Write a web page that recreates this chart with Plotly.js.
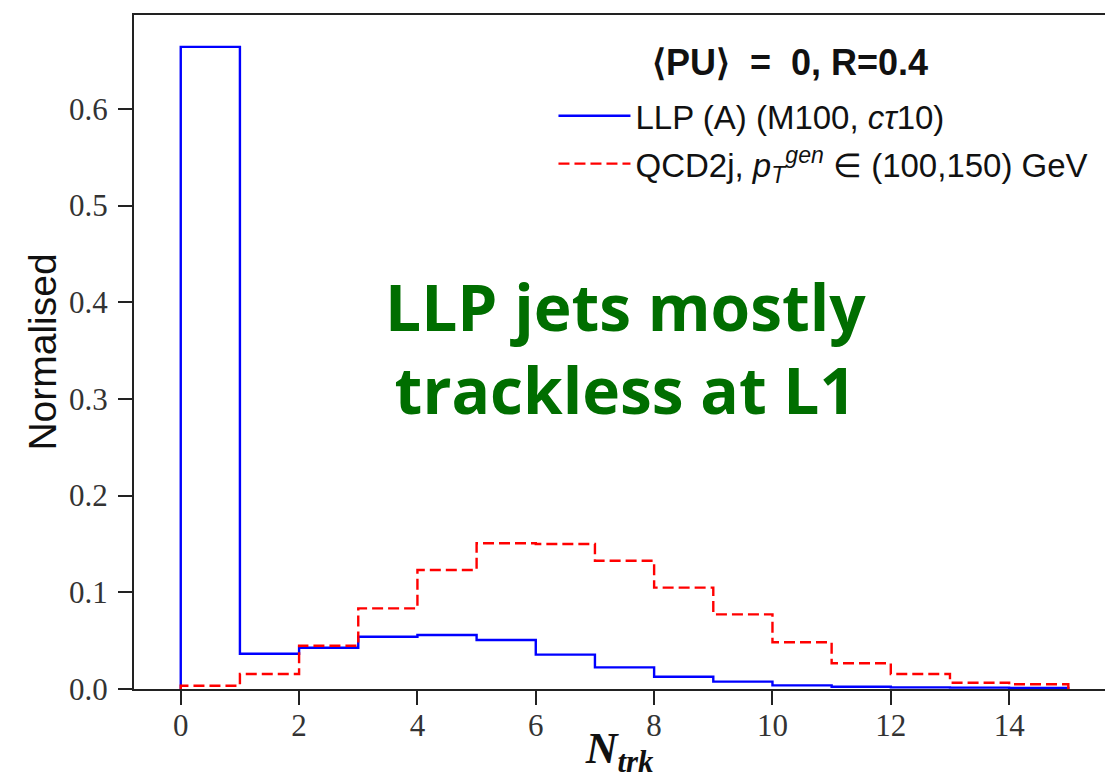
<!DOCTYPE html>
<html>
<head>
<meta charset="utf-8">
<script src="https://cdn.plot.ly/plotly-3.0.1.min.js"></script>
<style>html,body{margin:0;padding:0;background:#fff;}#chart{width:1105px;height:779px;}</style>
</head>
<body>
<div id="chart"></div>
<script>
// Bin edges of N_trk histogram (bins 0-1, 1-2, ..., 14-15)
const binEdges = [0,1,2,3,4,5,6,7,8,9,10,11,12,13,14,15];
// Normalised bin contents
const llpValues = [0.664,0.0365,0.0427,0.054,0.0558,0.0507,0.0355,0.0224,0.0127,0.0076,0.0038,0.0024,0.0017,0.0014,0.0010];
const qcdValues = [0.0034,0.0155,0.0448,0.0834,0.123,0.1507,0.150,0.1327,0.1048,0.0772,0.0483,0.0266,0.0155,0.0065,0.0049];
const llpName = "LLP (A) (M100, <i>cτ</i>10)";
const qcdName = "QCD2j, <i>p</i><sub><i>T</i></sub><sup><i>gen</i></sup> ∈ (100,150) GeV";
const xTickVals = [0,2,4,6,8,10,12,14];
const yTickVals = [0,0.1,0.2,0.3,0.4,0.5,0.6];
const yTickText = ["0.0","0.1","0.2","0.3","0.4","0.5","0.6"];

function stepPath(edges, vals){
  const x = [edges[0]], y = [0];
  for (let i = 0; i < vals.length; i++){ x.push(edges[i]); y.push(vals[i]); }
  x.push(edges[edges.length-1]); y.push(vals[vals.length-1]);
  x.push(edges[edges.length-1]); y.push(0);
  return {x, y};
}
const llp = stepPath(binEdges, llpValues);
const qcd = stepPath(binEdges, qcdValues);

const traces = [
  {x: llp.x, y: llp.y, mode: 'lines', line: {shape: 'hv', color: '#0000ff', width: 2.4}, name: llpName, legendgroup: 'a', hoverinfo: 'skip'},
  {x: qcd.x, y: qcd.y, mode: 'lines', line: {shape: 'hv', color: '#ff0000', width: 2.4, dash: '11px,5px'}, name: qcdName, legendgroup: 'b', hoverinfo: 'skip'}
];

const tickFont = {family: 'Liberation Serif, DejaVu Serif, serif', size: 31, color: '#333'};
const layout = {
  width: 1105, height: 779,
  margin: {l: 134, r: 0, t: 15, b: 90},
  paper_bgcolor: '#fff', plot_bgcolor: '#fff',
  showlegend: true,
  legend: {
    x: 0.432, y: 0.892, xanchor: 'left', yanchor: 'top',
    bgcolor: 'rgba(0,0,0,0)', borderwidth: 0,
    font: {family: 'Liberation Sans, Arial, sans-serif', size: 33, color: '#111'},
    itemwidth: 72, traceorder: 'grouped', tracegroupgap: 2
  },
  xaxis: {
    range: [-0.79, 15.62], tickvals: xTickVals, ticks: 'outside', ticklen: 14, tickwidth: 2, tickcolor: '#222',
    showline: true, linecolor: '#222', linewidth: 2, mirror: true, showgrid: false, zeroline: false,
    tickfont: tickFont, ticklabelstandoff: -6,
    title: {text: '<b><i>N</i></b><sub><b><i>trk</i></b></sub>', font: {family: 'Liberation Serif, DejaVu Serif, serif', size: 44, color: '#111'}, standoff: 2}
  },
  yaxis: {
    range: [0, 0.697], tickvals: yTickVals, ticktext: yTickText, ticks: 'outside', ticklen: 14, tickwidth: 2, tickcolor: '#222',
    showline: true, linecolor: '#222', linewidth: 2, mirror: false, showgrid: false, zeroline: false,
    tickfont: tickFont, ticklabelstandoff: 4,
    title: {text: 'Normalised', font: {family: 'Liberation Sans, Arial, sans-serif', size: 39, color: '#111'}, standoff: 0}
  },
  annotations: [
    {xref: 'paper', yref: 'paper', x: 0.531, y: 0.93, xanchor: 'left', yanchor: 'middle', showarrow: false,
     text: '<b>⟨PU⟩&nbsp; = &nbsp;0, R=0.4</b>', font: {family: 'Liberation Sans, Arial, sans-serif', size: 36, color: '#111'}},
    {xref: 'paper', yref: 'paper', x: 0.506, y: 0.506, xanchor: 'center', yanchor: 'middle', showarrow: false,
     text: '<b>LLP jets mostly<br>trackless at L1</b>', font: {family: 'Open Sans, Lato, sans-serif', size: 64, color: '#006e00'}}
  ]
};
Plotly.newPlot('chart', traces, layout, {staticPlot: true, displayModeBar: false});
</script>
</body>
</html>
